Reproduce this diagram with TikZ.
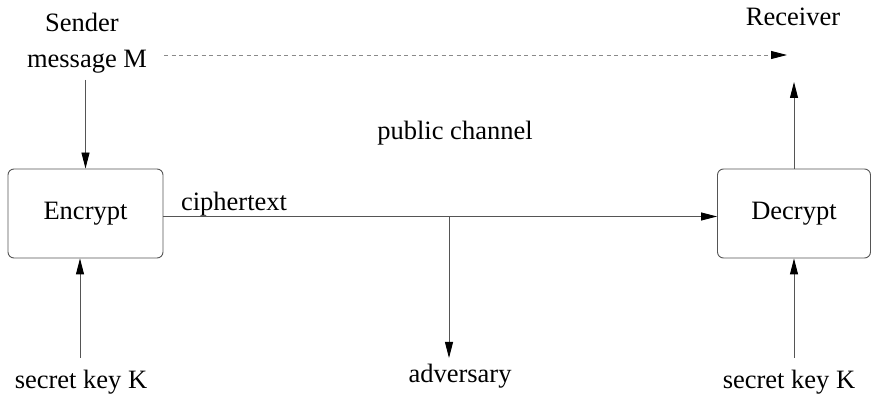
\documentclass[tikz,border=0pt]{standalone}
\usepackage{fontspec}
\setmainfont{Liberation Serif}
\usetikzlibrary{arrows.meta}
\definecolor{linegray}{HTML}{555555}
\definecolor{dashgray}{HTML}{8A8A8A}
\tikzset{
  lbl/.style={font=\fontsize{26.5}{30}\selectfont, inner sep=3pt, anchor=base},
  box/.style={draw=linegray, line width=0.9pt, rounded corners=6pt, minimum width=155pt, minimum height=89pt, inner sep=0pt, font=\fontsize{26.5}{30}\selectfont},
  arr/.style={draw=linegray, line width=0.9pt, -{Triangle[length=16pt,width=8pt,color=black]}},
  dasharr/.style={draw=dashgray, line width=0.9pt, dash pattern=on 4pt off 3.5pt, -{Triangle[length=16pt,width=8pt,color=black]}}
}
\begin{document}
\begin{tikzpicture}[x=1pt,y=-1pt]
\useasboundingbox (0,0) rectangle (871,395);
% boxes
\node[box] (enc) at (85.5,213.5) {Encrypt};
\node[box, minimum width=153pt] (dec) at (794,213.5) {Decrypt};
% labels
\node[lbl] (sender) at (82,32) {Sender};
\node[lbl] (msg) at (87,68) {message M};
\node[lbl] (rcv) at (793,26) {Receiver};
\node[lbl] (pub) at (455,140) {public channel};
\node[lbl] (ct) at (234,211) {ciphertext};
\node[lbl] (key1) at (81,389) {secret key K};
\node[lbl] (adv) at (460,383) {adversary};
\node[lbl] (key2) at (789,389) {secret key K};
% coordinates
\coordinate (dashend) at (787,55);
\coordinate (rin) at (794,82);
\coordinate (tapx) at (449,0);
\coordinate (advtip) at (449,358);
\coordinate (k1top) at (80,358);
\coordinate (k2top) at (794,358);
\coordinate (mbot) at (85.5,80);
\coordinate (ctl) at ([yshift=-3pt]enc.east);
\coordinate (ctr) at ([yshift=-3pt]dec.west);
% connectors
\draw[dasharr] ([xshift=14pt]msg.east |- dashend) -- (dashend);
\draw[arr] (mbot) -- (enc.north);
\draw[arr] (ctl) -- (ctr);
\draw[arr] (ctl -| tapx) -- (advtip);
\draw[arr] (k1top) -- (k1top |- enc.south);
\draw[arr] (k2top) -- (dec.south);
\draw[arr] (dec.north) -- (rin);
\end{tikzpicture}
\end{document}
